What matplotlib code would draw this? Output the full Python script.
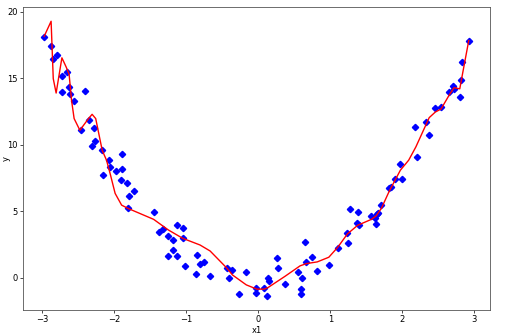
import matplotlib
matplotlib.use('Agg')
import matplotlib.pyplot as plt

# scatter data
x1 = [-2.976, -2.88, -2.85, -2.80, -2.73, -2.73, -2.66, -2.63, -2.62, -2.56,
      -2.41, -2.47, -2.36, -2.285, -2.31, -2.27, -2.17, -2.07, -1.89, -2.06,
      -1.975, -1.90, -2.16, -1.91, -1.83, -1.80, -1.73, -1.81, -1.455, -1.38,
      -1.32, -1.25, -1.135, -1.05, -1.05, -1.18, -1.18, -1.25, -1.135, -1.015,
      -0.857, -0.81, -0.76, -0.86, -0.67, -0.435, -0.36, -0.41, -0.167, -0.264,
      -0.036, -0.028, 0.083, 0.125, 0.135, 0.145, 0.26, 0.278, 0.367, 0.552,
      0.612, 0.59, 0.59, 0.65, 0.668, 0.747, 0.82, 0.98, 1.104, 1.238,
      1.248, 1.275, 1.38, 1.373, 1.396, 1.572, 1.623, 1.637, 1.65, 1.665,
      1.71, 1.82, 1.85, 1.897, 2.0, 1.975, 2.2, 2.18, 2.33, 2.375,
      2.46, 2.54, 2.65, 2.70, 2.72, 2.80, 2.82, 2.83, 2.925]
y = [18.08, 17.4, 16.46, 16.73, 15.13, 13.95, 15.5, 14.3, 13.83, 13.28,
     14.06, 11.08, 11.85, 11.23, 9.88, 10.26, 9.6, 8.88, 9.3, 8.28,
     7.98, 8.15, 7.68, 7.35, 7.1, 6.15, 6.48, 5.2, 4.95, 3.45,
     3.65, 3.13, 3.95, 3.75, 2.98, 2.83, 2.05, 1.65, 1.6, 0.88,
     1.7, 1.03, 1.2, 0.25, 0.1, 0.73, 0.58, -0.05, 0.45, -1.27,
     -0.77, -1.17, -0.77, -1.37, -0.05, -0.27, 1.45, 0.73, -0.47, 0.45,
     -0.05, -0.83, -1.27, 2.7, 1.2, 1.55, 0.5, 0.98, 2.25, 3.35,
     2.6, 5.15, 4.95, 4.13, 3.93, 4.63, 4.48, 4.05, 4.8, 4.88,
     5.45, 6.73, 6.78, 7.45, 7.4, 8.58, 9.1, 11.33, 11.7, 10.7,
     12.78, 12.86, 13.95, 14.4, 14.2, 13.6, 14.83, 16.2, 17.83]

# model prediction line
fit_x = [-2.976, -2.88, -2.85, -2.81, -2.73, -2.67, -2.63, -2.595, -2.56, -2.48,
         -2.36, -2.31, -2.26, -2.17, -2.11, -2.06, -1.99, -1.90, -1.81, -1.455,
         -1.25, -1.05, -0.81, -0.67, -0.435, -0.36, -0.167, -0.02, 0.083, 0.135,
         0.367, 0.58, 0.668, 0.82, 0.98, 1.104, 1.238, 1.38, 1.572, 1.637,
         1.71, 1.82, 1.975, 2.09, 2.19, 2.375, 2.46, 2.54, 2.65, 2.72,
         2.80, 2.83, 2.925]
fit_y = [18.15, 19.28, 14.96, 13.88, 16.53, 15.83, 15.3, 13.3, 11.96, 11.08,
         11.96, 12.28, 11.96, 9.58, 8.83, 7.83, 6.33, 5.45, 5.2, 4.38,
         3.58, 2.95, 2.45, 2.0, 0.7, 0.2, -0.55, -0.87, -0.87, -0.75,
         0.08, 0.88, 1.05, 1.18, 1.53, 2.28, 3.28, 3.93, 4.38, 4.63,
         5.2, 6.5, 8.08, 8.83, 9.83, 12.03, 12.45, 12.68, 13.7, 14.28,
         14.2, 15.08, 17.83]

fig = plt.figure(figsize=(5.12, 3.35), dpi=100)
ax = fig.add_axes([0.045, 0.075, 0.912, 0.904])
ax.plot(x1, y, 'bD', markersize=3.2)
ax.plot(fit_x, fit_y, 'r-', linewidth=1)
ax.set_xlim(-3.27, 3.22)
ax.set_ylim(-2.43, 20.35)
ax.set_xticks([-3, -2, -1, 0, 1, 2, 3])
ax.set_yticks([0, 5, 10, 15, 20])
ax.tick_params(labelsize=6, length=2, width=0.5, pad=2)
for s in ax.spines.values():
    s.set_linewidth(0.6)
    s.set_color('#555555')
ax.set_xlabel('x1', fontsize=6, labelpad=1)
ax.set_ylabel('y', fontsize=6)
ax.yaxis.set_label_coords(-0.027, 0.5)
fig.savefig('out.png', dpi=100)
plt.close()
